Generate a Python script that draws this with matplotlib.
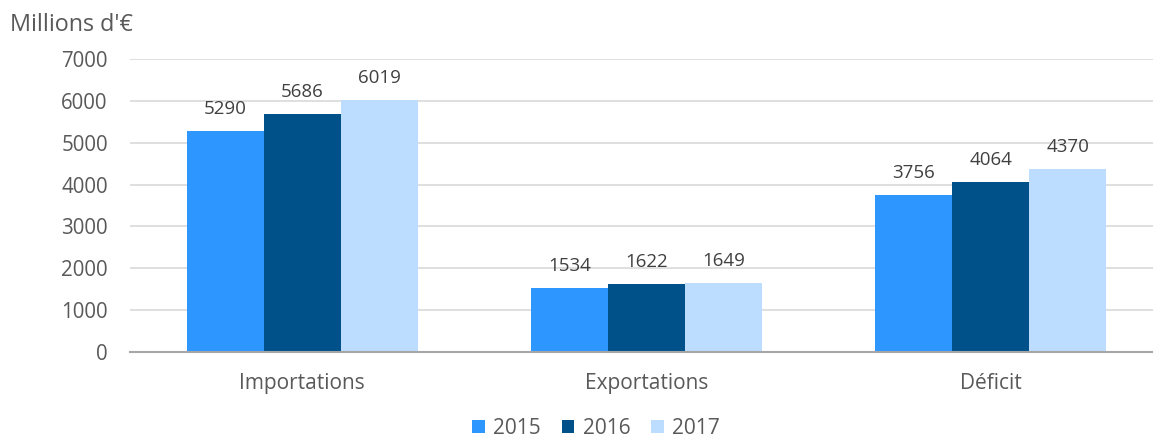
import matplotlib
matplotlib.use("Agg")
import matplotlib.pyplot as plt
import numpy as np

categories = ["Importations", "Exportations", "Déficit"]
years = ["2015", "2016", "2017"]
v2015 = [5290, 1534, 3756]
v2016 = [5686, 1622, 4064]
v2017 = [6019, 1649, 4370]
series = [v2015, v2016, v2017]
colors = ["#2E96FF", "#00508A", "#BCDDFF"]
yticks = [0, 1000, 2000, 3000, 4000, 5000, 6000, 7000]

plt.rcParams['font.family'] = ['Open Sans', 'DejaVu Sans']
txt = "#595959"

fig = plt.figure(figsize=(11.53, 4.38), dpi=100)
ax = fig.add_axes([130/1153, 1-352/438, 1033/1153, 293/438])

x = np.arange(len(categories))
w = 0.2235
for i, (vals, c, yr) in enumerate(zip(series, colors, years)):
    xs = x + (i - 1) * w
    ax.bar(xs, vals, width=w, color=c, label=yr, zorder=2)
    for xi, v in zip(xs, vals):
        ax.annotate(str(v), (xi, v), xytext=(0, 12), textcoords="offset points",
                    ha="center", va="baseline", fontsize=13.5, color="#404040")

ax.set_xlim(-0.5, 2.5)
ax.set_ylim(0, 7000)
ax.set_yticks(yticks)
ax.set_yticklabels([str(t) for t in yticks])
ax.set_xticks(x)
ax.set_xticklabels(categories)
ax.tick_params(axis="y", length=0, pad=16, labelsize=14.8, labelcolor=txt)
ax.tick_params(axis="x", length=0, pad=15, labelsize=15, labelcolor=txt)
ax.grid(axis="y", color="#D9D9D9", linewidth=1.2, zorder=0)
ax.set_axisbelow(True)
for s in ["top", "right", "left"]:
    ax.spines[s].set_visible(False)
ax.spines["bottom"].set_color("#A6A6A6")
ax.spines["bottom"].set_linewidth(1.5)

fig.text(10/1153, 1-25/438, "Millions d'€", fontsize=16.8, color=txt, va="center", ha="left")

leg = fig.legend(loc="center", bbox_to_anchor=(596/1153, 1-428/438), ncol=3, frameon=False,
                 fontsize=15, handlelength=0.6, handleheight=0.6, handletextpad=0.4,
                 columnspacing=1.0, labelcolor=txt)

fig.savefig("out.png", dpi=100)
